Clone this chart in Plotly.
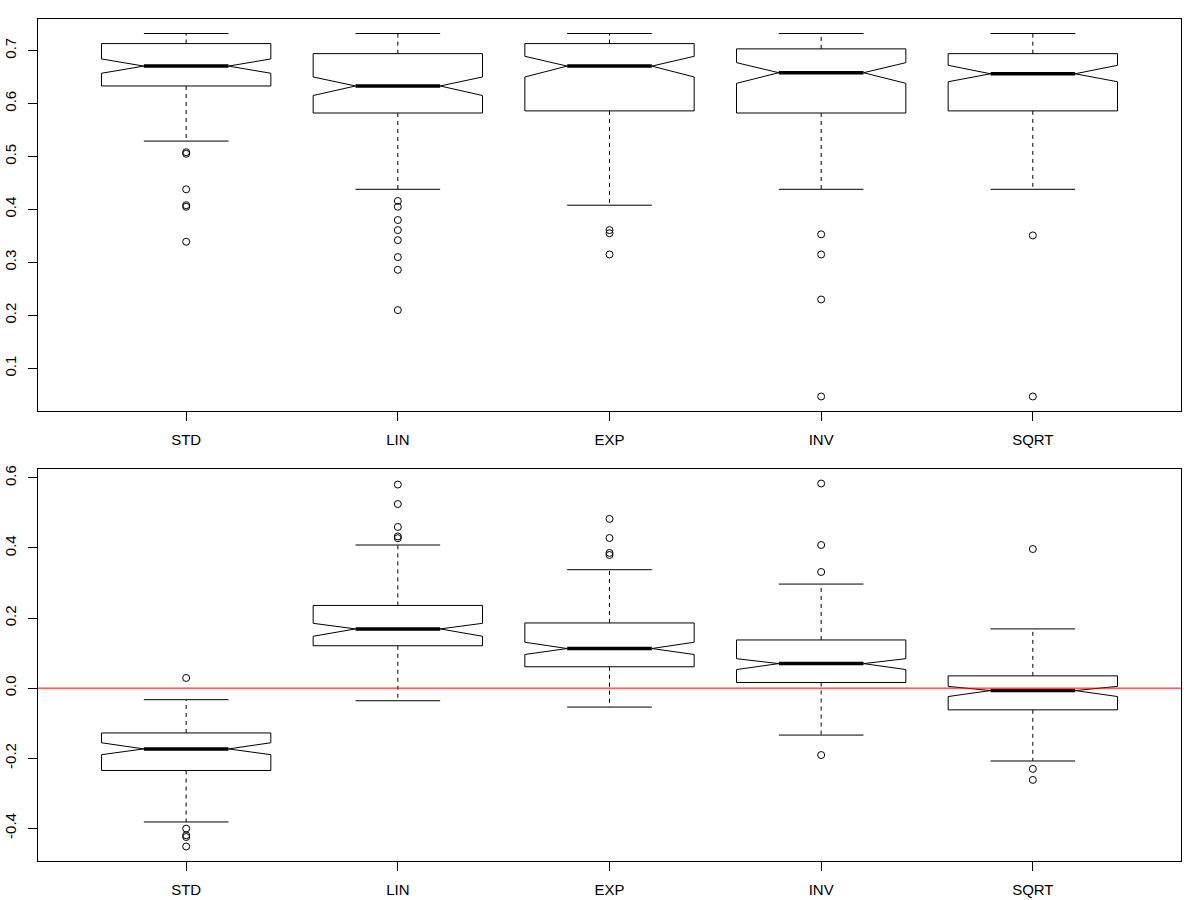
import plotly.graph_objects as go
from plotly.subplots import make_subplots

categories = ["STD", "LIN", "EXP", "INV", "SQRT"]

# top panel: box statistics
top_lower = [0.529, 0.438, 0.408, 0.438, 0.438]
top_q1 = [0.633, 0.582, 0.586, 0.582, 0.586]
top_median = [0.6705, 0.633, 0.6705, 0.658, 0.656]
top_q3 = [0.713, 0.694, 0.713, 0.703, 0.694]
top_upper = [0.732, 0.732, 0.732, 0.732, 0.732]
top_notch_lo = [0.657, 0.615, 0.650, 0.638, 0.641]
top_notch_hi = [0.684, 0.650, 0.689, 0.677, 0.672]
top_outliers = [
    [0.508, 0.505, 0.438, 0.408, 0.405, 0.339],
    [0.416, 0.405, 0.380, 0.361, 0.342, 0.310, 0.286, 0.210],
    [0.361, 0.355, 0.315],
    [0.353, 0.315, 0.230, 0.047],
    [0.351, 0.047],
]

# bottom panel
bot_lower = [-0.382, -0.036, -0.054, -0.134, -0.208]
bot_q1 = [-0.235, 0.121, 0.061, 0.016, -0.062]
bot_median = [-0.1735, 0.169, 0.113, 0.070, -0.007]
bot_q3 = [-0.128, 0.236, 0.186, 0.1375, 0.035]
bot_upper = [-0.033, 0.4085, 0.338, 0.297, 0.169]
bot_notch_lo = [-0.190, 0.148, 0.096, 0.053, -0.024]
bot_notch_hi = [-0.156, 0.185, 0.131, 0.084, 0.005]
bot_outliers = [
    [0.029, -0.401, -0.420, -0.425, -0.452],
    [0.581, 0.5255, 0.460, 0.433, 0.428],
    [0.483, 0.4285, 0.386, 0.380],
    [0.584, 0.4085, 0.3315, -0.191],
    [0.397, -0.2305, -0.262],
]
ref_line = 0.0

top_ticks = [0.1, 0.2, 0.3, 0.4, 0.5, 0.6, 0.7]
top_ticktext = ["0.1", "0.2", "0.3", "0.4", "0.5", "0.6", "0.7"]
bot_ticks = [-0.4, -0.2, 0.0, 0.2, 0.4, 0.6]
bot_ticktext = ["-0.4", "-0.2", "0.0", "0.2", "0.4", "0.6"]

HALF = 0.4      # half box width
NOTCH = 0.5     # notch depth fraction
STAPLE = 0.5    # whisker cap fraction

fig = make_subplots(rows=2, cols=1, vertical_spacing=0.0689)


def add_panel(row, lower, q1, med, q3, upper, nlo, nhi, outs):
    bx, by, mx, my, wx, wy, cx, cy, ox, oy = [], [], [], [], [], [], [], [], [], []
    for i in range(len(categories)):
        x = i + 1
        bx += [x - HALF, x + HALF, x + HALF, x + HALF * NOTCH, x + HALF, x + HALF,
               x - HALF, x - HALF, x - HALF * NOTCH, x - HALF, x - HALF, None]
        by += [q1[i], q1[i], nlo[i], med[i], nhi[i], q3[i],
               q3[i], nhi[i], med[i], nlo[i], q1[i], None]
        mx += [x - HALF * NOTCH, x + HALF * NOTCH, None]
        my += [med[i], med[i], None]
        wx += [x, x, None, x, x, None]
        wy += [q3[i], upper[i], None, q1[i], lower[i], None]
        cx += [x - HALF * STAPLE, x + HALF * STAPLE, None,
               x - HALF * STAPLE, x + HALF * STAPLE, None]
        cy += [upper[i], upper[i], None, lower[i], lower[i], None]
        ox += [x] * len(outs[i])
        oy += outs[i]
    fig.add_trace(go.Scatter(x=wx, y=wy, mode="lines",
                             line=dict(color="black", width=1, dash="4px,4px")), row=row, col=1)
    fig.add_trace(go.Scatter(x=cx, y=cy, mode="lines",
                             line=dict(color="black", width=1)), row=row, col=1)
    fig.add_trace(go.Scatter(x=bx, y=by, mode="lines", fill="toself", fillcolor="white",
                             line=dict(color="black", width=1)), row=row, col=1)
    fig.add_trace(go.Scatter(x=mx, y=my, mode="lines",
                             line=dict(color="black", width=3.5)), row=row, col=1)
    fig.add_trace(go.Scatter(x=ox, y=oy, mode="markers",
                             marker=dict(symbol="circle-open", size=7, color="black",
                                         line=dict(width=1))), row=row, col=1)
    lo = min(min(lower), min(min(o) for o in outs))
    hi = max(max(upper), max(max(o) for o in outs))
    pad = (hi - lo) * 0.04
    return [lo - pad, hi + pad]


top_range = add_panel(1, top_lower, top_q1, top_median, top_q3, top_upper,
                      top_notch_lo, top_notch_hi, top_outliers)
bot_range = add_panel(2, bot_lower, bot_q1, bot_median, bot_q3, bot_upper,
                      bot_notch_lo, bot_notch_hi, bot_outliers)

fig.add_hline(y=ref_line, line=dict(color="red", width=1), row=2, col=1)

axis_style = dict(showline=True, mirror=True, linecolor="black", linewidth=1,
                  ticks="outside", ticklen=9, tickcolor="black", showgrid=False,
                  zeroline=False, automargin=False,
                  tickfont=dict(size=15, color="black"))
fig.update_xaxes(range=[0.3, len(categories) + 0.7], tickvals=list(range(1, len(categories) + 1)),
                 ticktext=categories, ticklabelstandoff=6, **axis_style)
fig.update_yaxes(tickangle=-90, ticklabelstandoff=6, **axis_style)
fig.update_yaxes(range=top_range, tickvals=top_ticks, ticktext=top_ticktext, row=1, col=1)
fig.update_yaxes(range=bot_range, tickvals=bot_ticks, ticktext=bot_ticktext, row=2, col=1)

fig.update_layout(width=1200, height=900, showlegend=False,
                  plot_bgcolor="white", paper_bgcolor="white",
                  margin=dict(l=38, r=19, t=19, b=39),
                  font=dict(family="Arial, Liberation Sans, sans-serif"))
# drop the default page margin so the figure sits at the window corner
fig.write_html("out.html", config={"displayModeBar": False},
               post_script="document.body.style.margin='0px';")
